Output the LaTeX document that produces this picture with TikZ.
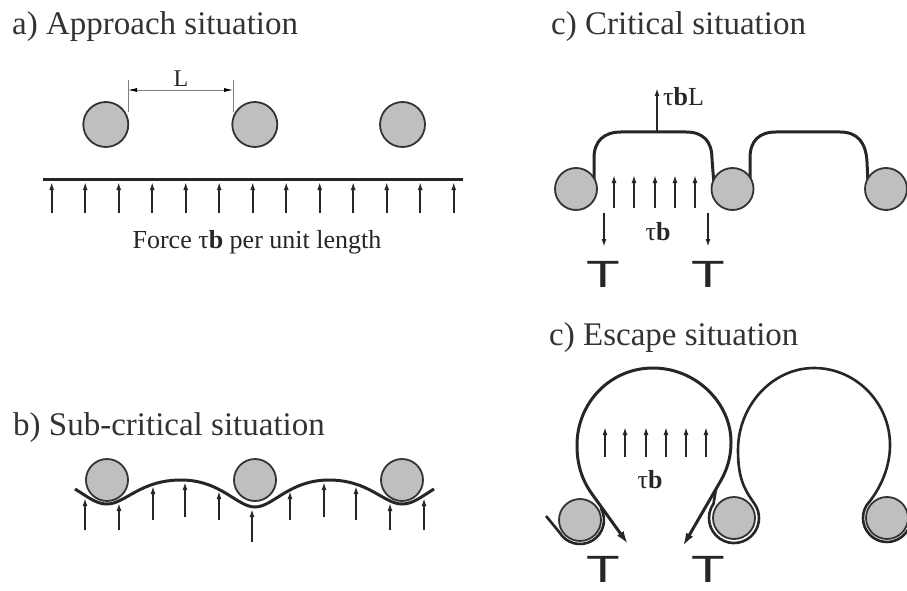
\documentclass[tikz,border=0pt]{standalone}
\usepackage{fontspec}
\setmainfont{Liberation Serif}
\newfontfamily\tsans{Liberation Sans}
\usetikzlibrary{arrows.meta}
\begin{document}
\begin{tikzpicture}[x=1pt,y=-1pt,
 particle/.style={draw=black!80, fill=black!25, line width=1.8pt},
 disl/.style={line width=3pt, draw=black!85},
 ringline/.style={line width=2.6pt, draw=black!85},
 force/.style={line width=1.6pt, draw=black!85, -{Latex[length=8pt,width=5pt]}},
 bigtip/.style={{Latex[length=13pt,width=8pt]}-{Latex[length=13pt,width=8pt]}},
 title/.style={font=\fontsize{33}{38}\selectfont, anchor=base west, inner sep=0pt, text=black!80},
 lab/.style={font=\fontsize{26}{30}\selectfont, inner sep=0pt, text=black!85},
 tens/.style={font=\tsans\fontsize{38}{42}\selectfont, inner sep=0pt, anchor=base, text=black!85},
 dim/.style={line width=0.8pt, draw=black!50},
]
\useasboundingbox (0,0) rectangle (907,591);

% ---------------- a) Approach situation
\node[title] (ta) at (12,35) {a) Approach situation};
\foreach \x in {105.8,254.8,402.5} \draw[particle] (\x,124.5) circle[radius=22.5];
\coordinate (dl) at (128,90); \coordinate (dr) at (233,90);
\draw[dim] (128,80) -- (128,112);
\draw[dim] (233,80) -- (233,112);
\draw[dim, {Latex[length=9pt,width=4pt,black]}-{Latex[length=9pt,width=4pt,black]}] (dl) -- (dr);
\node[lab, font=\fontsize{24}{28}\selectfont] (L) at (181,79) {L};
\draw[line width=3.5pt, black!85] (43,179.5) -- (463,179.5);
\foreach \i in {0,...,12} \draw[force] ({51.7+33.5*\i},213) -- ({51.7+33.5*\i},182);
\node[lab, anchor=base] (fa) at (257,248) {Force τ\textbf{b} per unit length};

% ---------------- b) Sub-critical situation
\node[title] (tb) at (13,435) {b) Sub-critical situation};
\foreach \x in {107,255,402} \draw[particle] (\x,480) circle[radius=21];
\draw[disl] (75,489) .. controls (88,497) and (96,504) .. (107,504)
  .. controls (125,504) and (140,480) .. (181,480)
  .. controls (221,480) and (237,507) .. (255,507)
  .. controls (273,507) and (289,480) .. (329,480)
  .. controls (369,480) and (384,504) .. (402,504)
  .. controls (413,504) and (421,497) .. (434,489);
\foreach \x/\t/\b in {85/498/530, 119/503/530, 153/486/520, 185/482/517, 219/491/520,
  252/509/542, 290/491/520, 324/482/517, 356/486/520, 390/503/530, 424/498/530}
  \draw[force] (\x,\b) -- (\x,\t);

% ---------------- c) Critical situation
\node[title] (tc) at (551,35) {c) Critical situation};
\draw[disl] (594,182) -- (594,158) .. controls (594,141) and (604,132) .. (621,132)
  -- (686,132) .. controls (703,132) and (712,141) .. (712,159) -- (714,185);
\draw[disl] (750,184) -- (750,158) .. controls (750,141) and (759,132) .. (776,132)
  -- (840,132) .. controls (858,132) and (866,143) .. (867,162) -- (868,184);
\foreach \x in {576,732.5,886} \draw[particle] (\x,189) circle[radius=21];
\draw[force] (657,133) -- (657,88);
\node[lab, anchor=west] (tbl) at (663,97) {τ\textbf{b}L};
\foreach \x in {614,634,655,675,695} \draw[force] (\x,208) -- (\x,175);
\foreach \x in {604,708} \draw[force] (\x,213) -- (\x,247);
\node[lab] (tbc) at (658,232) {τ\textbf{b}};
\node[tens] (T1) at (603,287) {\scalebox{1.45}[1]{T}};
\node[tens] (T2) at (708,287) {\scalebox{1.45}[1]{T}};

% ---------------- c) Escape situation
\node[title] (te) at (549,345) {c) Escape situation};
\draw[particle] (580,520) circle[radius=21];
\draw[particle] (734,518) circle[radius=21];
\draw[particle] (887,518) circle[radius=21];
\foreach \x in {605,625,646,666,686,706} \draw[force] (\x,457) -- (\x,427);
\node[lab] (tbe) at (650,480) {τ\textbf{b}};
% left loop with both ends as arrows
\draw[disl, bigtip] (628,544) -- (592,494)
  .. controls (582,480) and (577,465) .. (577,445)
  .. controls (577,403) and (610,368) .. (653,368)
  .. controls (696,368) and (731,403) .. (731,442)
  .. controls (731,458) and (727,470) .. (720,482) -- (683,546);
% ring round particle 1
\draw[ringline] (546,516) -- (559.2,532) arc[start angle=150, end angle=-30, radius=24];
% ring round particle 2, right loop, ring round particle 3
\draw[ringline] (716,489) -- (713.5,503.7) arc[start angle=215, end angle=-35, radius=25]
  .. controls (744,489) and (738,478) .. (738,450)
  .. controls (738,406) and (772,368) .. (814,368)
  .. controls (856,368) and (890,403) .. (890,445)
  .. controls (890,468) and (880,488) .. (870,501)
  arc[start angle=225, end angle=30, radius=24];
\node[tens] (T3) at (603,582) {\scalebox{1.45}[1]{T}};
\node[tens] (T4) at (708,582) {\scalebox{1.45}[1]{T}};
\end{tikzpicture}
\end{document}
